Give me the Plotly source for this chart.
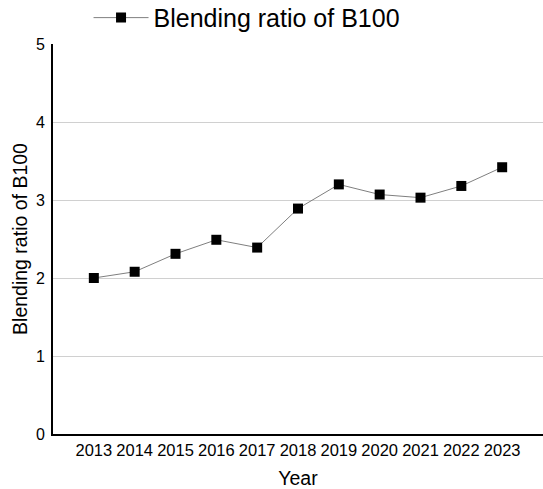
import plotly.graph_objects as go

years = ["2013", "2014", "2015", "2016", "2017", "2018", "2019", "2020", "2021", "2022", "2023"]
ratio = [2.00, 2.08, 2.31, 2.49, 2.39, 2.89, 3.20, 3.07, 3.03, 3.18, 3.42]
series_name = "Blending ratio of B100"

fig = go.Figure()
fig.add_trace(go.Scatter(
    x=years, y=ratio, name=series_name, mode="lines+markers",
    line=dict(color="#7f7f7f", width=1),
    marker=dict(symbol="square", size=10, color="black"),
    showlegend=True,
))

fig.update_layout(
    width=543, height=489,
    margin=dict(l=53, r=0, t=44, b=55, autoexpand=False),
    paper_bgcolor="white", plot_bgcolor="white",
    font=dict(family="Liberation Sans, Arial, sans-serif", color="black"),
    showlegend=True,
    legend=dict(orientation="h", x=0.396, xanchor="center", y=1.067, yanchor="middle",
                font=dict(size=25), itemwidth=55),
    xaxis=dict(
        type="category", range=[-1, 11],
        showline=True, linecolor="black", linewidth=2,
        showgrid=False, ticks="", tickfont=dict(size=16.5),
        title=dict(text="Year", font=dict(size=19.5), standoff=15),
    ),
    yaxis=dict(
        range=[0, 5], dtick=1,
        showline=True, linecolor="black", linewidth=2,
        showgrid=True, gridcolor="#d0d0d0", gridwidth=1,
        zeroline=False, ticks="outside", ticklen=3, tickcolor="white",
        tickfont=dict(size=16),
        title=dict(text=series_name, font=dict(size=19.5), standoff=3),
    ),
)

fig.write_html("out.html")
